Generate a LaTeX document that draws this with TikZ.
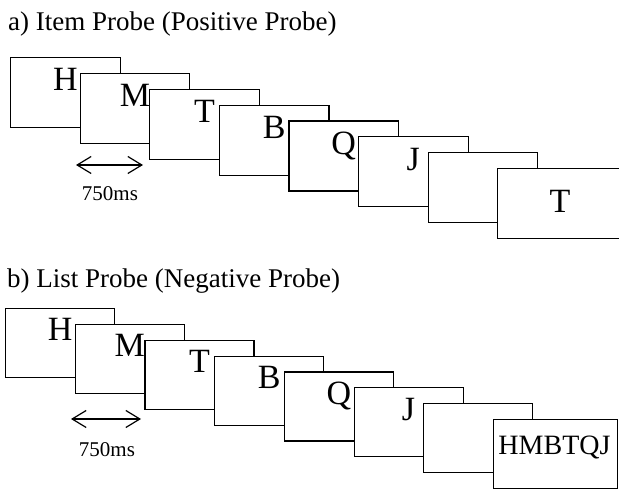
\documentclass[tikz,border=0pt]{standalone}
\usepackage{fontspec}
\setmainfont{Liberation Serif}
\usetikzlibrary{arrows.meta,calc}
\begin{document}
\begin{tikzpicture}[x=1pt,y=1pt,
  stim/.style={draw=black, fill=white, line width=1.2pt, inner sep=0pt, anchor=north west,
               minimum width=109.5pt, minimum height=70pt},
  letter/.style={anchor=base, inner sep=0pt, font=\fontsize{34}{34}\selectfont},
  title/.style={anchor=base west, inner sep=0pt, font=\fontsize{27}{27}\selectfont},
  dur/.style={anchor=base, inner sep=0pt, font=\fontsize{21}{21}\selectfont},
  span/.style={line width=1.2pt, {Straight Barb[length=14pt,width=17pt,line width=1.2pt]}-{Straight Barb[length=14pt,width=17pt,line width=1.2pt]}}]
\useasboundingbox (0,0) rectangle (619,490);
\clip (0,0) rectangle (619,490);
% ---------- a) ----------
\node[title] (ta) at (8,459) {a) Item Probe (Positive Probe)};
\foreach \i/\l in {0/H,1/M,2/T,3/B,4/Q,5/J,6/{}} {
  \node[stim] (a\i) at ({10+69.6*\i},{433-15.85*\i}) {};
  \node[letter] (al\i) at ($(a\i.north)+(0,-34)$) {\l};
}
\node[stim, minimum width=140pt] (a7) at (497,322) {};
\node[letter] (al7) at (560,277) {T};
\coordinate (aa1) at (76,325);
\coordinate (aa2) at (143,325);
\draw[span] (aa1) -- (aa2);
\node[dur] (ad) at (110,289) {750ms};
% ---------- b) ----------
\node[title] (tb) at (7,202) {b) List Probe (Negative Probe)};
\foreach \i/\l in {0/H,1/M,2/T,3/B,4/Q,5/J,6/{}} {
  \node[stim, minimum width=109pt, minimum height=69pt] (b\i) at ({5+69.7*\i},{182-15.85*\i}) {};
  \node[letter] (bl\i) at ($(b\i.north)+(0,-33)$) {\l};
}
\node[stim, minimum width=124pt, minimum height=69pt] (b7) at (493,71) {};
\node[letter, font=\fontsize{28}{28}\selectfont] (bl7) at (554.5,35) {HMBTQJ};
\coordinate (ba1) at (71,71);
\coordinate (ba2) at (141,71);
\draw[span] (ba1) -- (ba2);
\node[dur] (bd) at (107,33) {750ms};
\end{tikzpicture}
\end{document}
